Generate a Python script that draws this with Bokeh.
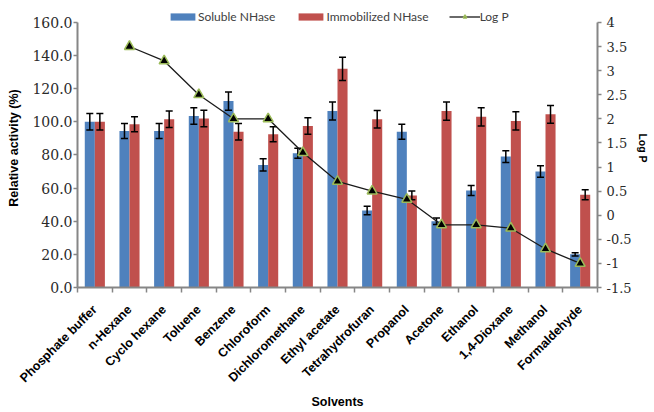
import math
import numpy as np
from bokeh.plotting import figure
from bokeh.models import (Range1d, LinearAxis, FixedTicker, ColumnDataSource, Whisker,
                          TeeHead, Legend, LegendItem, NumeralTickFormatter)
from bokeh.embed import file_html
from bokeh.resources import INLINE

# ---------------- data ----------------
solvents = ["Phosphate buffer", "n-Hexane", "Cyclo hexane", "Toluene", "Benzene",
            "Chloroform", "Dichloromethane", "Ethyl acetate", "Tetrahydrofuran",
            "Propanol", "Acetone", "Ethanol", "1,4-Dioxane", "Methanol", "Formaldehyde"]
soluble = [100, 94.5, 94.5, 103.5, 112.5, 74, 81, 106.5, 46.5, 94, 40, 58.5, 79, 70, 20]
soluble_err = [5, 4.5, 4.5, 5, 5.5, 3.7, 3, 5.4, 2.6, 4.5, 2, 3, 3.5, 3.5, 1]
immobilized = [100, 98.5, 101.5, 102, 94, 92.5, 97.5, 132, 101.5, 55.6, 106.5, 103, 100.5, 104.5, 56]
immobilized_err = [5, 4.5, 5, 5, 5, 4.5, 5, 7, 5.3, 2.7, 5.5, 5.5, 5.5, 5.3, 3]
log_p = [float("nan"), 3.5, 3.2, 2.5, 2.0, 2.0, 1.3, 0.7, 0.5, 0.33, -0.2, -0.2, -0.27, -0.7, -1.0]

left_ticks = [0, 20, 40, 60, 80, 100, 120, 140, 160]
right_ticks = [-1.5, -1, -0.5, 0, 0.5, 1, 1.5, 2, 2.5, 3, 3.5, 4]

BLUE = "#4F81BD"
RED = "#C0504D"
GREEN = "#9BBB59"
AXIS_GRAY = "#868686"

n = len(solvents)
idx = np.arange(n)
centers = idx + 0.5
off = 0.145
bw = 0.29

s_src = ColumnDataSource(dict(x=centers - off, top=soluble,
                              up=np.array(soluble) + np.array(soluble_err),
                              lo=np.array(soluble) - np.array(soluble_err)))
i_src = ColumnDataSource(dict(x=centers + off, top=immobilized,
                              up=np.array(immobilized) + np.array(immobilized_err),
                              lo=np.array(immobilized) - np.array(immobilized_err)))
l_src = ColumnDataSource(dict(x=centers, y=log_p))

# frame extends a little above the axes' tops to leave room for the legend
HEAD = 14 / 267  # fraction of axis span added on top (legend strip)
l_lo, l_hi = left_ticks[0], left_ticks[-1]
r_lo, r_hi = right_ticks[0], right_ticks[-1]

p = figure(width=654, height=412, output_backend="svg", toolbar_location=None,
           x_range=Range1d(0, n),
           y_range=Range1d(l_lo, l_hi + (l_hi - l_lo) * HEAD),
           min_border_left=77, min_border_right=57, min_border_top=8, min_border_bottom=123)
p.extra_y_ranges = {"logp": Range1d(r_lo, r_hi + (r_hi - r_lo) * HEAD)}
p.outline_line_color = None
p.xgrid.visible = False
p.ygrid.visible = False
p.background_fill_color = "white"
p.border_fill_color = "white"

vb1 = p.vbar(x="x", top="top", width=bw, source=s_src, fill_color=BLUE, line_color=None)
vb2 = p.vbar(x="x", top="top", width=bw, source=i_src, fill_color=RED, line_color=None)

for src in (s_src, i_src):
    w = Whisker(source=src, base="x", upper="up", lower="lo", line_color="black", line_width=1.5,
                upper_head=TeeHead(size=7, line_color="black", line_width=1.5),
                lower_head=TeeHead(size=7, line_color="black", line_width=1.5),
                level="annotation")
    p.add_layout(w)

ln = p.line(x="x", y="y", source=l_src, y_range_name="logp", line_color="#1a1a1a", line_width=1.3,
            level="overlay")
sc = p.scatter(x="x", y="y", source=l_src, y_range_name="logp", marker="triangle", size=10,
               fill_color="black", line_color=GREEN, line_width=1.5, level="overlay")

# x axis
xa = p.xaxis[0]
xa.ticker = FixedTicker(ticks=list(centers), minor_ticks=list(range(n + 1)))
xa.major_label_overrides = {float(c): s for c, s in zip(centers, solvents)}
xa.major_label_orientation = math.pi / 4
xa.major_tick_line_color = None
xa.major_tick_out = 0
xa.major_tick_in = 0
xa.minor_tick_line_color = AXIS_GRAY
xa.minor_tick_line_width = 1.5
xa.minor_tick_out = 5
xa.minor_tick_in = 0
xa.axis_line_color = AXIS_GRAY
xa.axis_line_width = 2
xa.major_label_text_font = "Liberation Sans"
xa.major_label_text_font_style = "bold"
xa.major_label_text_font_size = "12.5px"
xa.major_label_text_color = "black"
xa.major_label_standoff = 15
xa.axis_label = "Solvents"
xa.axis_label_text_font = "Liberation Sans"
xa.axis_label_text_font_style = "bold"
xa.axis_label_text_font_size = "12.5px"
xa.axis_label_text_color = "black"
xa.axis_label_standoff = 2

# left axis
ya = p.yaxis[0]
ya.ticker = FixedTicker(ticks=left_ticks)
ya.formatter = NumeralTickFormatter(format="0.0")
ya.axis_label = "Relative activity (%)"
ya.bounds = (l_lo, l_hi)

# right axis
ra = LinearAxis(y_range_name="logp", ticker=FixedTicker(ticks=right_ticks),
                major_label_overrides={float(t): f"{t:g}" for t in right_ticks},
                axis_label="Log P", bounds=(r_lo, r_hi))
p.add_layout(ra, "right")

for ax in (ya, ra):
    ax.axis_line_color = AXIS_GRAY
    ax.axis_line_width = 2
    ax.major_tick_line_color = AXIS_GRAY
    ax.major_tick_line_width = 1.5
    ax.major_tick_out = 4
    ax.major_tick_in = 0
    ax.minor_tick_line_color = None
    ax.major_label_text_font = "DejaVu Serif"
    ax.major_label_text_color = "#2a2a2a"
    ax.axis_label_text_font = "Liberation Sans"
    ax.axis_label_text_font_style = "bold"
    ax.axis_label_text_color = "black"
ya.major_label_text_font_size = "14px"
ra.major_label_text_font_size = "13px"
ya.axis_label_text_font_size = "12.5px"
ra.axis_label_text_font_size = "10.5px"
ya.major_label_standoff = 1
ya.axis_label_standoff = 8
ra.major_label_standoff = 5
ra.axis_label_standoff = 2

legend = Legend(items=[LegendItem(label="Soluble NHase", renderers=[vb1]),
                       LegendItem(label="Immobilized NHase", renderers=[vb2]),
                       LegendItem(label="Log P", renderers=[ln, sc])],
                orientation="horizontal", location=(90, 263),
                padding=0, margin=0, spacing=20, label_standoff=0,
                glyph_width=31, glyph_height=9, label_height=14,
                label_text_font="Lato", label_text_font_size="12px", label_text_color="#404040",
                background_fill_alpha=0, border_line_alpha=0)
p.add_layout(legend)

open("out.html", "w").write(file_html(p, INLINE))
